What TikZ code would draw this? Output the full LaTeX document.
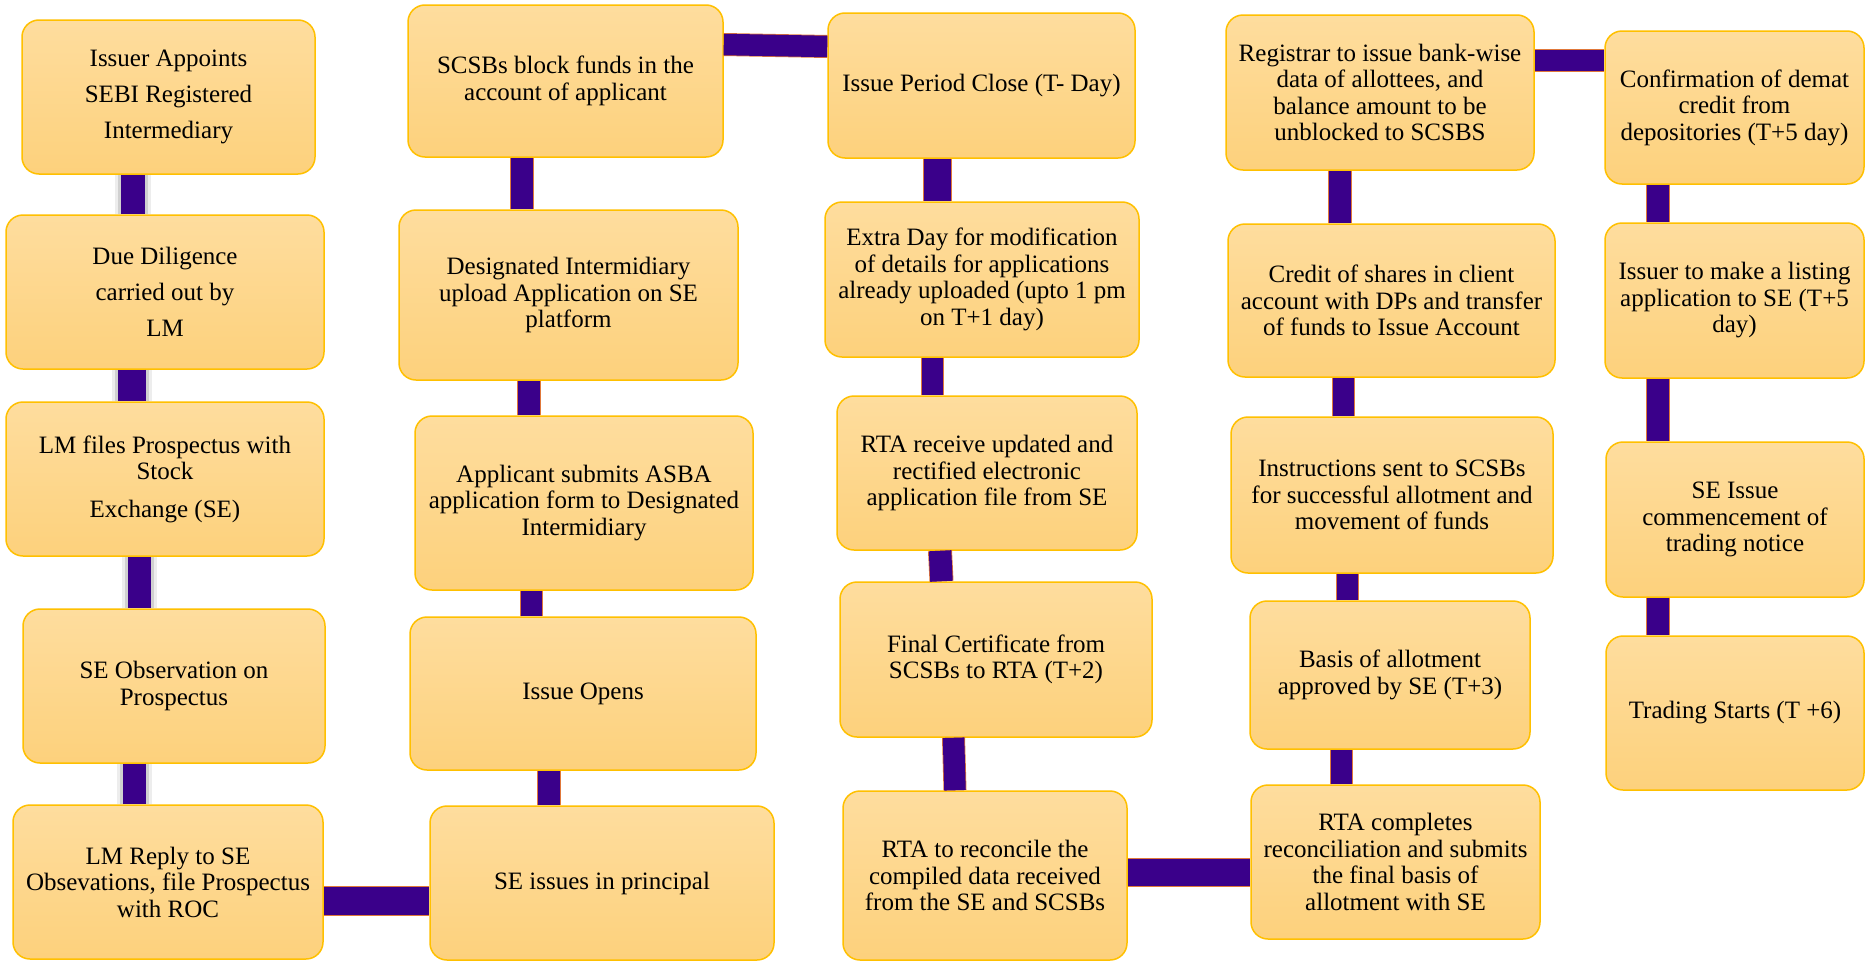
\documentclass[tikz,border=0pt]{standalone}
\usepackage{fontspec}
\setmainfont{Liberation Serif}
\newfontfamily\stepfont{Liberation Serif}
\definecolor{boxtop}{HTML}{FEDD9E}
\definecolor{boxbot}{HTML}{FDD17C}
\definecolor{boxedge}{HTML}{FFC000}
\definecolor{barfill}{HTML}{3A008A}
\definecolor{baredge}{HTML}{E0783A}
\begin{document}
\begin{tikzpicture}[x=1pt,y=-1pt,
  stepbox/.style={draw=boxedge, line width=1.5pt, rounded corners=17pt,
    top color=boxtop, bottom color=boxbot, align=center, inner sep=0pt,
    text=black, font=\stepfont\fontsize{25}{26.5}\selectfont},
  widelines/.style={font=\stepfont\fontsize{25}{36}\selectfont},
  conn/.style={draw=barfill, line width=#1pt-1.5pt,
    preaction={draw=baredge, line width=#1pt}},
  shadowconn/.style={draw=barfill, line width=#1pt,
    preaction={draw=black, opacity=0.07, line width=#1pt+12pt},
    preaction={draw=black, opacity=0.12, line width=#1pt+6pt}},
]
\fill[white] (0,0) rectangle (1870,961);
\useasboundingbox (0,0) rectangle (1870,961);

% first column: preparation of the offer document
\node[stepbox, widelines, minimum width=293pt, minimum height=154pt] (b1) at (168.5,97)
  {Issuer Appoints\\SEBI Registered\\Intermediary};
\node[stepbox, widelines, minimum width=318pt, minimum height=154pt] (b2) at (165,292)
  {Due Diligence\\carried out by\\LM};
\node[stepbox, minimum width=318pt, minimum height=154pt] (b3) at (165,479)
  {LM files Prospectus with\\Stock\\[11pt]Exchange (SE)};
\node[stepbox, minimum width=302pt, minimum height=154pt] (b4) at (174,686)
  {SE Observation on\\Prospectus};
\node[stepbox, minimum width=310pt, minimum height=154pt] (b5) at (168,882)
  {LM Reply to SE\\Obsevations, file Prospectus\\with ROC};

% second column: bidding
\node[stepbox, minimum width=315pt, minimum height=152pt] (c1) at (565.5,81)
  {SCSBs block funds in the\\account of applicant};
\node[stepbox, minimum width=339pt, minimum height=170pt] (c2) at (568.5,295)
  {Designated Intermidiary\\upload Application on SE\\platform};
\node[stepbox, minimum width=338pt, minimum height=174pt] (c3) at (584,503)
  {Applicant submits ASBA\\application form to Designated\\Intermidiary};
\node[stepbox, minimum width=346pt, minimum height=153pt] (c4) at (583,693.5)
  {Issue Opens};
\node[stepbox, minimum width=344pt, minimum height=154pt] (c5) at (602,883)
  {SE issues in principal};

% third column: closing and reconciliation
\node[stepbox, minimum width=307pt, minimum height=145pt] (d1) at (981.5,85.5)
  {Issue Period Close (T- Day)};
\node[stepbox, minimum width=314pt, minimum height=155pt] (d2) at (982,279.5)
  {Extra Day for modification\\of details for applications\\already uploaded (upto 1 pm\\on T+1 day)};
\node[stepbox, minimum width=300pt, minimum height=154pt] (d3) at (987,473)
  {RTA receive updated and\\rectified electronic\\application file from SE};
\node[stepbox, minimum width=312pt, minimum height=155pt] (d4) at (996,659.5)
  {Final Certificate from\\SCSBs to RTA (T+2)};
\node[stepbox, minimum width=284pt, minimum height=169pt] (d5) at (985,875.5)
  {RTA to reconcile the\\compiled data received\\from the SE and SCSBs};

% fourth column: allotment
\node[stepbox, minimum width=308pt, minimum height=155pt] (e1) at (1380,92.5)
  {Registrar to issue bank-wise\\data of allottees, and\\balance amount to be\\unblocked to SCSBS};
\node[stepbox, minimum width=327pt, minimum height=153pt] (e2) at (1391.5,300.5)
  {Credit of shares in client\\account with DPs and transfer\\of funds to Issue Account};
\node[stepbox, minimum width=322pt, minimum height=156pt] (e3) at (1392,495)
  {Instructions sent to SCSBs\\for successful allotment and\\movement of funds};
\node[stepbox, minimum width=280pt, minimum height=148pt] (e4) at (1390,675)
  {Basis of allotment\\approved by SE (T+3)};
\node[stepbox, minimum width=289pt, minimum height=154pt] (e5) at (1395.5,862)
  {RTA completes\\reconciliation and submits\\the final basis of\\allotment with SE};

% fifth column: listing
\node[stepbox, minimum width=259pt, minimum height=153pt] (f1) at (1734.5,107.5)
  {Confirmation of demat\\credit from\\depositories (T+5 day)};
\node[stepbox, minimum width=259pt, minimum height=155pt] (f2) at (1734.5,300.5)
  {Issuer to make a listing\\application to SE (T+5\\day)};
\node[stepbox, minimum width=258pt, minimum height=155pt] (f3) at (1735,519.5)
  {SE Issue\\commencement of\\trading notice};
\node[stepbox, minimum width=258pt, minimum height=154pt] (f4) at (1735,713)
  {Trading Starts (T +6)};

% connectors, first column
\draw[shadowconn=24] (b1.south -| 133,0) -- (b2.north -| 133,0);
\draw[shadowconn=28] (b2.south -| 132,0) -- (b3.north -| 132,0);
\draw[shadowconn=23] (b3.south -| 139.5,0) -- (b4.north -| 139.5,0);
\draw[shadowconn=23] (b4.south -| 134.5,0) -- (b5.north -| 134.5,0);
\draw[conn=30] (b5.east |- 0,901) -- (c5.west |- 0,901);

% connectors, second column
\draw[conn=24] (c5.north -| 549,0) -- (c4.south -| 549,0);
\draw[conn=23] (c4.north -| 531.5,0) -- (c3.south -| 531.5,0);
\draw[conn=24] (c3.north -| 529,0) -- (c2.south -| 529,0);
\draw[conn=24] (c2.north -| 522,0) -- (c1.south -| 522,0);
\draw[conn=23] (c1.east |- 0,44.5) -- (d1.west |- 0,46.5);

% connectors, third column
\draw[conn=29] (d1.south -| 937.5,0) -- (d2.north -| 937.5,0);
\draw[conn=23] (d2.south -| 932.5,0) -- (d3.north -| 932.5,0);
\draw[conn=24] (d3.south -| 940,0) -- (d4.north -| 941.5,0);
\draw[conn=23] (d4.south -| 953.5,0) -- (d5.north -| 955,0);
\draw[conn=29] (d5.east |- 0,872.5) -- (e5.west |- 0,872.5);

% connectors, fourth column
\draw[conn=23] (e5.north -| 1341.5,0) -- (e4.south -| 1341.5,0);
\draw[conn=23] (e4.north -| 1347.5,0) -- (e3.south -| 1347.5,0);
\draw[conn=23] (e3.north -| 1343.5,0) -- (e2.south -| 1343.5,0);
\draw[conn=24] (e2.north -| 1340,0) -- (e1.south -| 1340,0);
\draw[conn=23] (e1.east |- 0,60.5) -- (f1.west |- 0,60.5);

% connectors, fifth column
\draw[conn=24] (f1.south -| 1658,0) -- (f2.north -| 1658,0);
\draw[conn=24] (f2.south -| 1658,0) -- (f3.north -| 1658,0);
\draw[conn=24] (f3.south -| 1658,0) -- (f4.north -| 1658,0);
\end{tikzpicture}
\end{document}
